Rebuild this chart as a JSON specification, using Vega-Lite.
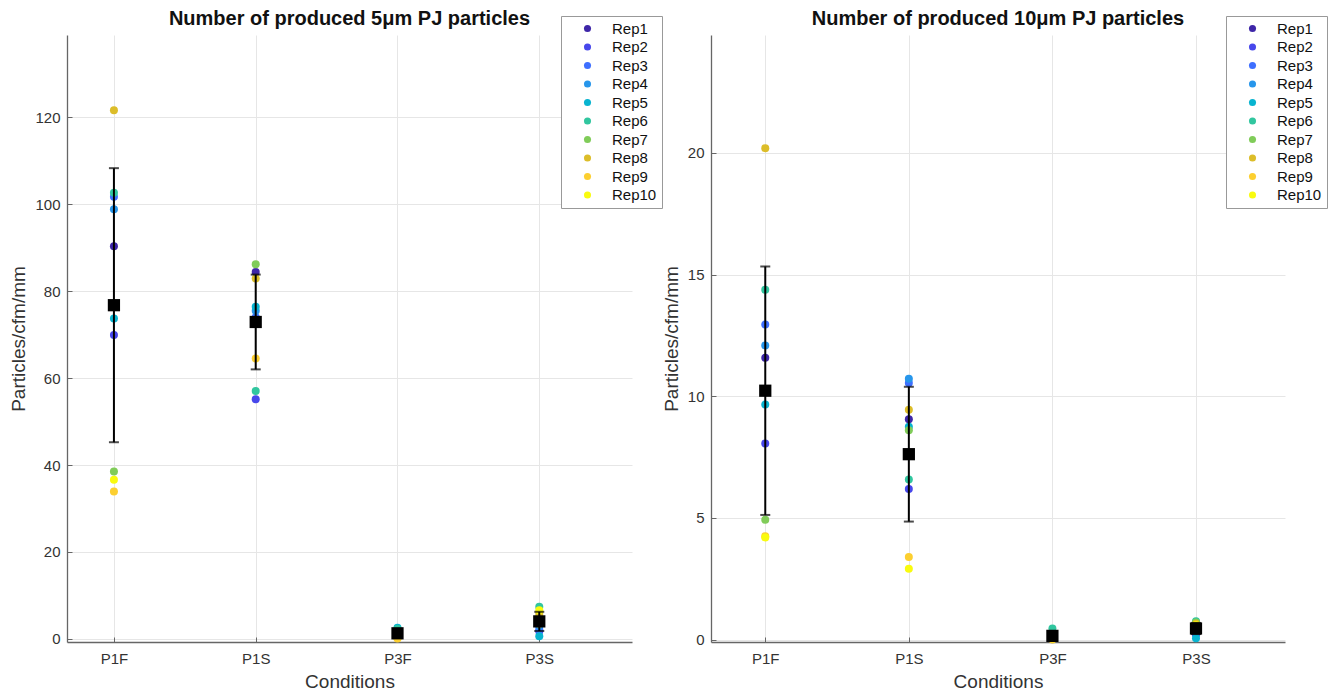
{
  "$schema": "https://vega.github.io/schema/vega-lite/v6.json",
  "background": "white",
  "padding": {"left": 9, "top": 8, "right": 5, "bottom": 5},
  "spacing": -1,
  "config": {
    "font": "Liberation Sans",
    "view": {"stroke": null},
    "axis": {
      "domainColor": "#666666", "domainWidth": 1.3, "tickColor": "#666666", "tickSize": -5,
      "gridColor": "#e6e6e6", "labelColor": "#333333", "titleColor": "#333333",
      "labelFontSize": 15, "titleFontSize": 19, "titleFontWeight": "normal", "labelPadding": 12
    },
    "axisX": {"labelPadding": 14, "titlePadding": 6},
    "axisY": {"titlePadding": 6},
    "title": {"fontSize": 20, "fontWeight": "bold", "color": "#111111", "offset": -13},
    "legend": {
      "orient": "none", "title": null, "labelFontSize": 15, "labelColor": "#111111",
      "symbolType": "circle", "symbolSize": 50, "symbolOffset": 14, "labelOffset": 17,
      "strokeColor": "#999999", "fillColor": "white", "padding": 5, "rowPadding": 2.5,
      "symbolStrokeWidth": 0
    }
  },
  "datasets": {
    "p5": [
      {"cond": "P1F", "x": 1, "rep": "Rep1", "value": 90.3},
      {"cond": "P1F", "x": 1, "rep": "Rep2", "value": 69.9},
      {"cond": "P1F", "x": 1, "rep": "Rep3", "value": 101.7},
      {"cond": "P1F", "x": 1, "rep": "Rep4", "value": 98.8},
      {"cond": "P1F", "x": 1, "rep": "Rep5", "value": 73.7},
      {"cond": "P1F", "x": 1, "rep": "Rep6", "value": 102.6},
      {"cond": "P1F", "x": 1, "rep": "Rep7", "value": 38.5},
      {"cond": "P1F", "x": 1, "rep": "Rep8", "value": 121.6},
      {"cond": "P1F", "x": 1, "rep": "Rep9", "value": 33.9},
      {"cond": "P1F", "x": 1, "rep": "Rep10", "value": 36.6},
      {"cond": "P1S", "x": 2, "rep": "Rep1", "value": 84.4},
      {"cond": "P1S", "x": 2, "rep": "Rep2", "value": 55.1},
      {"cond": "P1S", "x": 2, "rep": "Rep3", "value": 74.0},
      {"cond": "P1S", "x": 2, "rep": "Rep4", "value": 75.5},
      {"cond": "P1S", "x": 2, "rep": "Rep5", "value": 76.4},
      {"cond": "P1S", "x": 2, "rep": "Rep6", "value": 57.0},
      {"cond": "P1S", "x": 2, "rep": "Rep7", "value": 86.2},
      {"cond": "P1S", "x": 2, "rep": "Rep8", "value": 82.9},
      {"cond": "P1S", "x": 2, "rep": "Rep9", "value": 64.5},
      {"cond": "P1S", "x": 2, "rep": "Rep10", "value": 73.0},
      {"cond": "P3F", "x": 3, "rep": "Rep1", "value": 1.0},
      {"cond": "P3F", "x": 3, "rep": "Rep2", "value": 1.5},
      {"cond": "P3F", "x": 3, "rep": "Rep3", "value": 1.2},
      {"cond": "P3F", "x": 3, "rep": "Rep4", "value": 1.8},
      {"cond": "P3F", "x": 3, "rep": "Rep5", "value": 2.6},
      {"cond": "P3F", "x": 3, "rep": "Rep6", "value": 2.3},
      {"cond": "P3F", "x": 3, "rep": "Rep7", "value": 1.4},
      {"cond": "P3F", "x": 3, "rep": "Rep8", "value": 0.2},
      {"cond": "P3F", "x": 3, "rep": "Rep9", "value": 0.1},
      {"cond": "P3F", "x": 3, "rep": "Rep10", "value": 0.9},
      {"cond": "P3S", "x": 4, "rep": "Rep1", "value": 4.5},
      {"cond": "P3S", "x": 4, "rep": "Rep2", "value": 1.8},
      {"cond": "P3S", "x": 4, "rep": "Rep3", "value": 2.2},
      {"cond": "P3S", "x": 4, "rep": "Rep4", "value": 3.0},
      {"cond": "P3S", "x": 4, "rep": "Rep5", "value": 0.6},
      {"cond": "P3S", "x": 4, "rep": "Rep6", "value": 7.4},
      {"cond": "P3S", "x": 4, "rep": "Rep7", "value": 5.0},
      {"cond": "P3S", "x": 4, "rep": "Rep8", "value": 5.8},
      {"cond": "P3S", "x": 4, "rep": "Rep9", "value": 3.5},
      {"cond": "P3S", "x": 4, "rep": "Rep10", "value": 6.6}
    ],
    "p10": [
      {"cond": "P1F", "x": 1, "rep": "Rep1", "value": 11.58},
      {"cond": "P1F", "x": 1, "rep": "Rep2", "value": 8.06},
      {"cond": "P1F", "x": 1, "rep": "Rep3", "value": 12.95},
      {"cond": "P1F", "x": 1, "rep": "Rep4", "value": 12.09},
      {"cond": "P1F", "x": 1, "rep": "Rep5", "value": 9.66},
      {"cond": "P1F", "x": 1, "rep": "Rep6", "value": 14.38},
      {"cond": "P1F", "x": 1, "rep": "Rep7", "value": 4.92},
      {"cond": "P1F", "x": 1, "rep": "Rep8", "value": 20.2},
      {"cond": "P1F", "x": 1, "rep": "Rep9", "value": 4.25},
      {"cond": "P1F", "x": 1, "rep": "Rep10", "value": 4.2},
      {"cond": "P1S", "x": 2, "rep": "Rep1", "value": 9.06},
      {"cond": "P1S", "x": 2, "rep": "Rep2", "value": 6.19},
      {"cond": "P1S", "x": 2, "rep": "Rep3", "value": 10.55},
      {"cond": "P1S", "x": 2, "rep": "Rep4", "value": 10.72},
      {"cond": "P1S", "x": 2, "rep": "Rep5", "value": 8.75},
      {"cond": "P1S", "x": 2, "rep": "Rep6", "value": 6.58},
      {"cond": "P1S", "x": 2, "rep": "Rep7", "value": 8.6},
      {"cond": "P1S", "x": 2, "rep": "Rep8", "value": 9.45},
      {"cond": "P1S", "x": 2, "rep": "Rep9", "value": 3.39},
      {"cond": "P1S", "x": 2, "rep": "Rep10", "value": 2.91},
      {"cond": "P3F", "x": 3, "rep": "Rep1", "value": 0.1},
      {"cond": "P3F", "x": 3, "rep": "Rep2", "value": 0.15},
      {"cond": "P3F", "x": 3, "rep": "Rep3", "value": 0.1},
      {"cond": "P3F", "x": 3, "rep": "Rep4", "value": 0.2},
      {"cond": "P3F", "x": 3, "rep": "Rep5", "value": 0.3},
      {"cond": "P3F", "x": 3, "rep": "Rep6", "value": 0.45},
      {"cond": "P3F", "x": 3, "rep": "Rep7", "value": 0.15},
      {"cond": "P3F", "x": 3, "rep": "Rep8", "value": 0.0},
      {"cond": "P3F", "x": 3, "rep": "Rep9", "value": 0.02},
      {"cond": "P3F", "x": 3, "rep": "Rep10", "value": 0.05},
      {"cond": "P3S", "x": 4, "rep": "Rep1", "value": 0.5},
      {"cond": "P3S", "x": 4, "rep": "Rep2", "value": 0.2},
      {"cond": "P3S", "x": 4, "rep": "Rep3", "value": 0.35},
      {"cond": "P3S", "x": 4, "rep": "Rep4", "value": 0.3},
      {"cond": "P3S", "x": 4, "rep": "Rep5", "value": 0.05},
      {"cond": "P3S", "x": 4, "rep": "Rep6", "value": 0.75},
      {"cond": "P3S", "x": 4, "rep": "Rep7", "value": 0.7},
      {"cond": "P3S", "x": 4, "rep": "Rep8", "value": 0.65},
      {"cond": "P3S", "x": 4, "rep": "Rep9", "value": 0.45},
      {"cond": "P3S", "x": 4, "rep": "Rep10", "value": 0.6}
    ]
  },
  "resolve": {"legend": {"color": "independent"}},
  "hconcat": [
    {
      "width": 565, "height": 607,
      "title": "Number of produced 5μm PJ particles",
      "data": {"name": "p5"},
      "encoding": {
        "x": {"field": "x", "type": "quantitative", "title": "Conditions",
          "scale": {"domain": [0.669, 4.654], "nice": false, "zero": false},
          "axis": {"values": [1, 2, 3, 4], "labelExpr": "['','P1F','P1S','P3F','P3S'][datum.value]"}}
      },
      "layer": [
        {
          "mark": {"type": "circle", "size": 64, "opacity": 1},
          "encoding": {
            "y": {"field": "value", "type": "quantitative", "title": "Particles/cfm/mm",
              "scale": {"domain": [-0.7, 138.9], "nice": false, "zero": false},
              "axis": {"values": [0, 20, 40, 60, 80, 100, 120]}},
            "color": {"field": "rep", "type": "nominal",
              "scale": {"domain": ["Rep1","Rep2","Rep3","Rep4","Rep5","Rep6","Rep7","Rep8","Rep9","Rep10"],
                "range": ["#3e26a8","#4747eb","#3e6fff","#2796eb","#08b4d0","#31c69f","#80cc59","#dcbd29","#fccf30","#f9fb0e"]},
              "legend": {"legendX": 494, "legendY": -19}}
          }
        },
        {
          "mark": {"type": "errorbar", "extent": "stdev", "orient": "vertical", "color": "black", "thickness": 2,
            "ticks": {"size": 10, "thickness": 2, "color": "black"}},
          "encoding": {"y": {"field": "value", "type": "quantitative", "title": "Particles/cfm/mm"}}
        },
        {
          "mark": {"type": "square", "size": 150, "color": "black", "opacity": 1},
          "encoding": {"y": {"aggregate": "mean", "field": "value", "type": "quantitative", "title": "Particles/cfm/mm"}}
        }
      ]
    },
    {
      "width": 574, "height": 607,
      "title": "Number of produced 10μm PJ particles",
      "data": {"name": "p10"},
      "encoding": {
        "x": {"field": "x", "type": "quantitative", "title": "Conditions",
          "scale": {"domain": [0.622, 4.62], "nice": false, "zero": false},
          "axis": {"values": [1, 2, 3, 4], "labelExpr": "['','P1F','P1S','P3F','P3S'][datum.value]"}}
      },
      "layer": [
        {
          "mark": {"type": "circle", "size": 64, "opacity": 1},
          "encoding": {
            "y": {"field": "value", "type": "quantitative", "title": "Particles/cfm/mm",
              "scale": {"domain": [-0.1, 24.85], "nice": false, "zero": false},
              "axis": {"values": [0, 5, 10, 15, 20]}},
            "color": {"field": "rep", "type": "nominal",
              "scale": {"domain": ["Rep1","Rep2","Rep3","Rep4","Rep5","Rep6","Rep7","Rep8","Rep9","Rep10"],
                "range": ["#3e26a8","#4747eb","#3e6fff","#2796eb","#08b4d0","#31c69f","#80cc59","#dcbd29","#fccf30","#f9fb0e"]},
              "legend": {"legendX": 515, "legendY": -19}}
          }
        },
        {
          "mark": {"type": "errorbar", "extent": "stdev", "orient": "vertical", "color": "black", "thickness": 2,
            "ticks": {"size": 10, "thickness": 2, "color": "black"}},
          "encoding": {"y": {"field": "value", "type": "quantitative", "title": "Particles/cfm/mm"}}
        },
        {
          "mark": {"type": "square", "size": 150, "color": "black", "opacity": 1},
          "encoding": {"y": {"aggregate": "mean", "field": "value", "type": "quantitative", "title": "Particles/cfm/mm"}}
        }
      ]
    }
  ]
}
